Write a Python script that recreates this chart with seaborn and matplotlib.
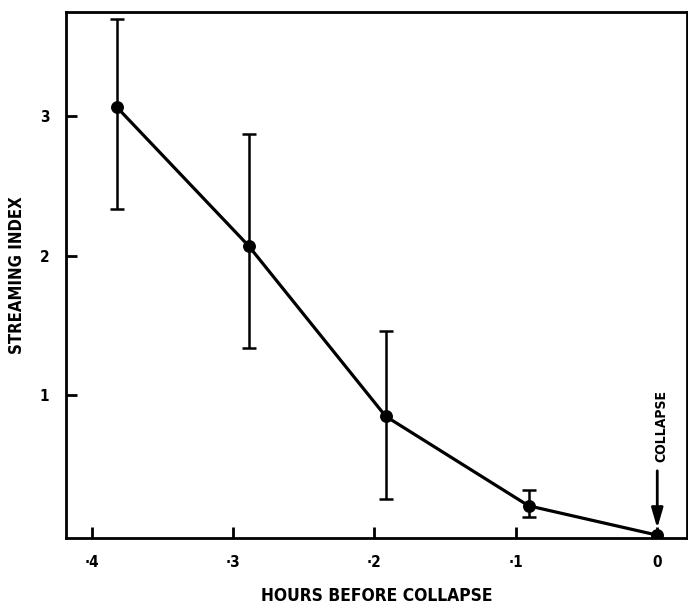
import numpy as np
import pandas as pd
import matplotlib
matplotlib.use("Agg")
import matplotlib.pyplot as plt
import seaborn as sns

# Dane
hours = [-3.82, -2.89, -1.92, -0.91, 0.0]
streaming = [3.06, 2.07, 0.85, 0.21, 0.0]
err_low = [0.73, 0.73, 0.59, 0.08, 0.0]
err_high = [0.63, 0.80, 0.61, 0.11, 0.0]
xticks = [-4, -3, -2, -1, 0]
xtick_labels = ['·4', '·3', '·2', '·1', '0']
yticks = [1, 2, 3]

df = pd.DataFrame({'hours': hours, 'streaming': streaming})

sns.set_style("ticks")
plt.rcParams['font.family'] = ['DejaVu Sans']
plt.rcParams['font.weight'] = 'bold'
plt.rcParams['font.stretch'] = 'condensed'

fig = plt.figure(figsize=(6.88, 6.12), dpi=100)
ax = fig.add_axes([0.096, 0.121, 0.9025, 0.859])

ax.errorbar(hours[:-1], streaming[:-1], yerr=[err_low[:-1], err_high[:-1]],
            fmt='none', ecolor='black', elinewidth=1.8, capsize=5, capthick=1.8)
sns.lineplot(data=df, x='hours', y='streaming', color='black', linewidth=2.3,
             marker='o', markersize=8.5, markeredgecolor='black', ax=ax)

# strzalka "COLLAPSE"
ax.annotate('', xy=(0, 0.03), xytext=(0, 0.48),
            arrowprops=dict(arrowstyle='-|>,head_width=0.35,head_length=1.2',
                            color='black', lw=2))
ax.text(0.03, 0.52, 'COLLAPSE', rotation=90, ha='center', va='bottom',
        fontsize=10, fontweight='bold', color='black')

ax.set_xlim(-4.18, 0.21)
ax.set_ylim(-0.02, 3.74)
ax.set_xticks(xticks)
ax.set_xticklabels(xtick_labels)
ax.set_yticks(yticks)
ax.tick_params(direction='in', length=8, width=2, labelsize=11, pad=12,
               colors='black')
for s in ax.spines.values():
    s.set_linewidth(2)
    s.set_color('black')
    s.set_visible(True)

ax.set_xlabel('HOURS BEFORE COLLAPSE', fontsize=12.5, fontweight='bold', color='black')
ax.set_ylabel('STREAMING INDEX', fontsize=12, fontweight='bold', color='black')
ax.xaxis.set_label_coords(0.5, -0.11)
ax.yaxis.set_label_coords(-0.079, 0.5)
ax.xaxis.label.set_va('center')
ax.yaxis.label.set_va('center')

plt.savefig("out.png", dpi=100)
